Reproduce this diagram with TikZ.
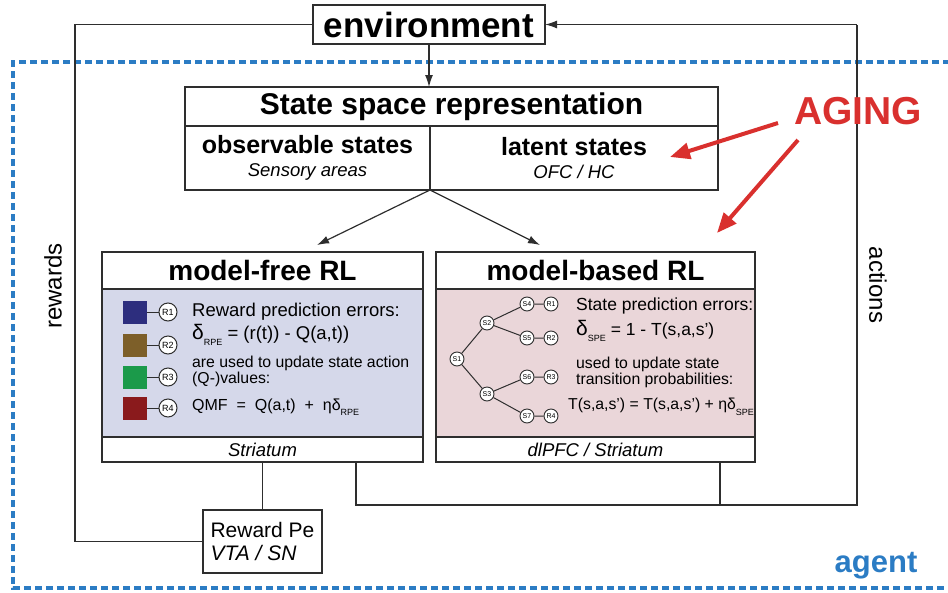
\documentclass[tikz,border=0pt]{standalone}
\usepackage{fontspec}
\setmainfont{Liberation Sans}
\usetikzlibrary{arrows.meta,calc}
\definecolor{linecol}{HTML}{2E2E2E}
\definecolor{mffill}{HTML}{D5D8EA}
\definecolor{mbfill}{HTML}{EAD6D9}
\definecolor{agentblue}{HTML}{2B7CC4}
\definecolor{agingred}{HTML}{D9302E}
\definecolor{qblue}{HTML}{2D2E7E}
\definecolor{qbrown}{HTML}{7D5F29}
\definecolor{qgreen}{HTML}{1B9A4A}
\definecolor{qred}{HTML}{8A1A1C}
\newcommand{\fsz}[1]{\fontsize{#1}{#1}\selectfont}
\newcommand{\subx}[1]{\raisebox{-0.35em}{\fontsize{9}{9}\selectfont #1}}
\newcommand{\apo}{\symbol{39}}
\tikzset{
  box/.style={draw=linecol, line width=1.2pt, inner sep=0pt, outer sep=0pt},
  conn/.style={draw=linecol, line width=1.2pt},
  arr/.style={conn, -{Latex[length=12pt,width=8pt]}},
  redarr/.style={draw=agingred, line width=4pt, -{Triangle[length=20pt,width=16pt]}},
  sq/.style={draw=none, minimum width=24pt, minimum height=23pt, inner sep=0pt},
  rc/.style={circle, draw=linecol, fill=white, line width=1pt, minimum size=18pt, inner sep=0pt, font=\fsz{9}},
  sc/.style={circle, draw=linecol, fill=white, line width=0.9pt, minimum size=14pt, inner sep=0pt, font=\fsz{7}},
  txt/.style={anchor=west, inner sep=0pt},
}
\begin{document}
\begin{tikzpicture}[x=1pt,y=-1pt]
\useasboundingbox (0,0) rectangle (948,592);
% agent dashed frame
\draw[agentblue, line width=4pt, dash pattern=on 7pt off 4pt] (950,62) -- (13,62) -- (13,588) -- (950,588);
\node[font=\fsz{31}\bfseries, text=agentblue] (agent) at (876,566) {agent};

% environment
\node[box, fill=white, minimum width=232pt, minimum height=39pt, font=\fsz{35}\bfseries] (env) at (429,24.5) {environment};

% state space representation
\node[box, fill=white, minimum width=533pt, minimum height=39pt, font=\fsz{30}\bfseries] (sst) at (451.5,106.5) {State space representation};
\node[box, fill=white, minimum width=245pt, minimum height=64pt, align=center] (ssl) at (307.5,158)
  {{\fsz{25}\bfseries observable states}\\[9pt]{\fsz{18.5}\itshape Sensory areas}};
\node[box, fill=white, minimum width=288pt, minimum height=64pt, align=center] (ssr) at (574,158)
  {{\fsz{25}\bfseries latent states}\\[9pt]{\fsz{18.5}\itshape OFC / HC}};

% model-free
\node[box, fill=white, minimum width=321pt, minimum height=37pt, font=\fsz{28}\bfseries] (mft) at (262.5,270.5) {model-free RL};
\node[box, fill=mffill, minimum width=321pt, minimum height=148pt] (mfb) at (262.5,363) {};
\node[box, fill=white, minimum width=321pt, minimum height=25pt, font=\fsz{18.5}\itshape] (mfs) at (262.5,449.5) {Striatum};

% model-based
\node[box, fill=white, minimum width=319pt, minimum height=37pt, font=\fsz{28}\bfseries] (mbt) at (595.5,270.5) {model-based RL};
\node[box, fill=mbfill, minimum width=319pt, minimum height=148pt] (mbb) at (595.5,363) {};
\node[box, fill=white, minimum width=319pt, minimum height=25pt, font=\fsz{18.5}\itshape] (mbs) at (595.5,449.5) {dlPFC / Striatum};

% reward Pe
\node[box, fill=white, minimum width=119pt, minimum height=63pt, align=left, inner xsep=5pt, font=\fsz{21}] (rpe) at (262.5,541.5)
  {Reward Pe\\[2pt]\textit{VTA / SN}};

% connectors
\coordinate (lx) at (75,0);
\coordinate (rx) at (857,0);
\coordinate (by) at (0,505);
\coordinate (mfin) at (317,245);
\coordinate (mbin) at (540,245);
\draw[arr] (env.south) -- (env.south |- sst.north);
\draw[arr] (ssl.south east) -- (mfin);
\draw[arr] (ssl.south east) -- (mbin);
\draw[conn] (env.west) -- (env.west -| lx) |- (rpe.west);
\draw[conn] (mfs.south) -- (rpe.north);
\coordinate (mfo) at (356,462);
\coordinate (mbo) at (720,462);
\draw[conn] (mfo) -- (mfo |- by) -- (rx |- by) -- (rx |- env.east);
\draw[arr] (rx |- env.east) -- (env.east);
\draw[conn] (mbo) -- (mbo |- by);

\node[rotate=90, font=\fsz{24}] (rew) at (53,286) {rewards};
\node[rotate=-90, font=\fsz{24}] (act) at (878,285) {actions};

% AGING
\node[font=\fsz{39}\bfseries, text=agingred] (aging) at (858,111) {AGING};
\coordinate (ag0) at (778,123);
\coordinate (ag1) at (670,157);
\coordinate (ag3) at (798,140);
\coordinate (ag2) at (717,233);
\draw[redarr] (ag0) -- (ag1);
\draw[redarr] (ag3) -- (ag2);

% model-free content
\node[sq, fill=qblue] (q1) at (135,312) {};
\node[sq, fill=qbrown] (q2) at (135,345) {};
\node[sq, fill=qgreen] (q3) at (135,377) {};
\node[sq, fill=qred] (q4) at (135,408) {};
\node[rc] (r1) at (168,312) {R1};
\node[rc] (r2) at (168,345) {R2};
\node[rc] (r3) at (168,377) {R3};
\node[rc] (r4) at (168,408) {R4};
\foreach \i in {1,2,3,4} {\draw[conn, line width=1pt] (q\i) -- (r\i);}
\node[txt, font=\fsz{18.5}] (mf1) at (192,312) {Reward prediction errors:};
\node[txt, font=\fsz{18.5}] (mf2) at (192,335) {{\fsz{21}δ}\subx{RPE} = (r(t)) - Q(a,t))};
\node[txt, font=\fsz{15.8}] (mf3) at (192,363) {are used to update state action};
\node[txt, font=\fsz{15.8}] (mf4) at (192,379) {(Q-)values:};
\node[txt, font=\fsz{16}] (mf5) at (192,407) {QMF~~=~~Q(a,t)~~+~~ηδ\subx{RPE}};

% model-based tree
\node[sc] (s1) at (457,359) {S1};
\node[sc] (s2) at (487,323) {S2};
\node[sc] (s3) at (487,394) {S3};
\node[sc] (s4) at (527,304) {S4};
\node[sc] (s5) at (527,338) {S5};
\node[sc] (s6) at (527,377) {S6};
\node[sc] (s7) at (527,416) {S7};
\node[sc] (t1) at (551,304) {R1};
\node[sc] (t2) at (551,338) {R2};
\node[sc] (t3) at (551,377) {R3};
\node[sc] (t4) at (551,416) {R4};
\draw[conn, line width=1pt] (s1) -- (s2) (s1) -- (s3) (s2) -- (s4) (s2) -- (s5) (s3) -- (s6) (s3) -- (s7)
  (s4) -- (t1) (s5) -- (t2) (s6) -- (t3) (s7) -- (t4);
\node[txt, font=\fsz{17.5}] (mb1) at (576,306) {State prediction errors:};
\node[txt, font=\fsz{17.5}] (mb2) at (576,331) {{\fsz{21}δ}\subx{SPE} = 1 - T(s,a,s\apo)};
\node[txt, font=\fsz{15.8}] (mb3) at (576,364) {used to update state};
\node[txt, font=\fsz{15.8}] (mb4) at (576,380) {transition probabilities:};
\node[txt, font=\fsz{15.8}] (mb5) at (568,407) {T(s,a,s\apo) = T(s,a,s\apo) + ηδ\subx{SPE}};
\end{tikzpicture}
\end{document}
